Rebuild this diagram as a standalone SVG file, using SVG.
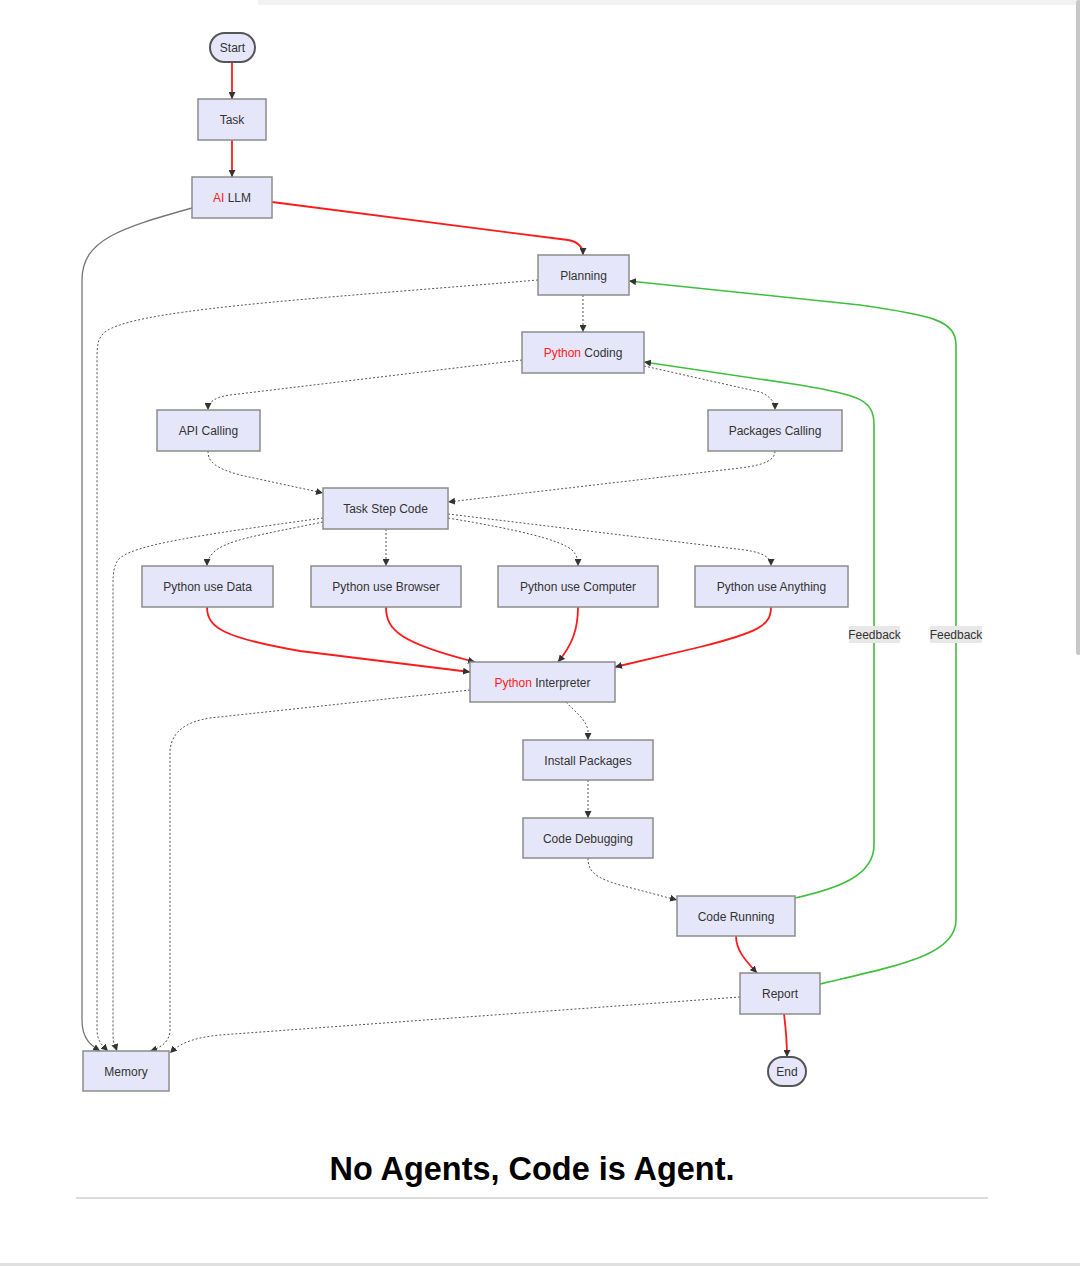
<svg xmlns="http://www.w3.org/2000/svg" width="1080" height="1266" viewBox="0 0 1080 1266">
<style>
.n{fill:#E6E6FA;stroke:#8c8c8c;stroke-width:1.5}
.s{fill:#E6E6FA;stroke:#555;stroke-width:2}
.t{font-family:"Liberation Sans",Arial,sans-serif;font-size:12px;fill:#333;text-anchor:middle;dominant-baseline:central}
.r{fill:#ff2020}
.e{fill:none}
.dot{stroke:#555;stroke-width:1;stroke-dasharray:2 2}
.sol{stroke:#777;stroke-width:1.3}
.red{stroke:#ff1a1a;stroke-width:1.8}
.grn{stroke:#3fbf3f;stroke-width:1.6}
.lb{fill:#e8e8e8}
</style>
<defs>
<marker id="a" viewBox="0 0 10 10" refX="10" refY="5" markerWidth="7" markerHeight="7" markerUnits="userSpaceOnUse" orient="auto">
<path d="M0,0 L10,5 L0,10 z" fill="#333"/>
</marker>
</defs>
<rect x="0" y="0" width="1080" height="1266" fill="#fff"/>
<rect x="258" y="0" width="822" height="5" fill="#f2f2f2"/>
<rect x="1076" y="0" width="5" height="655" rx="2.5" fill="#c8c8c8"/>
<g id="connectors" class="e">
<path class="red" d="M232,62 L232,99" marker-end="url(#a)"/>
<path class="red" d="M232,140 L232,177" marker-end="url(#a)"/>
<path class="red" d="M272,202 L568,240 C579,242 583,247 583,255" marker-end="url(#a)"/>
<path class="sol" d="M192,208 C120,228 82,240 82,280 L82,1020 C82,1040 92,1046 100,1051" marker-end="url(#a)"/>
<path class="dot" d="M538,280 C300,300 120,310 102,335 C98,340 97,345 97,360 L97,1030 C97,1042 104,1047 108,1051" marker-end="url(#a)"/>
<path class="dot" d="M583,295 L583,332" marker-end="url(#a)"/>
<path class="dot" d="M522,360 L230,395 C215,397 208,402 208,410" marker-end="url(#a)"/>
<path class="dot" d="M644,366 L760,392 C770,396 775,402 775,410" marker-end="url(#a)"/>
<path class="dot" d="M208,451 C208,462 215,468 240,475 L323,493" marker-end="url(#a)"/>
<path class="dot" d="M775,451 C775,460 765,465 740,468 L448,502" marker-end="url(#a)"/>
<path class="dot" d="M323,518 C200,535 130,545 118,560 C114,566 113,572 113,585 L113,1035 C113,1044 116,1048 117,1051" marker-end="url(#a)"/>
<path class="dot" d="M323,522 C260,535 225,540 213,553 C209,557 207,561 207,566" marker-end="url(#a)"/>
<path class="dot" d="M386,529 L386,566" marker-end="url(#a)"/>
<path class="dot" d="M448,518 C520,530 560,540 572,550 C577,555 578,560 578,566" marker-end="url(#a)"/>
<path class="dot" d="M448,514 L745,550 C765,553 771,558 771,566" marker-end="url(#a)"/>
<path class="red" d="M207,607 C207,628 225,638 300,651 L470,672" marker-end="url(#a)"/>
<path class="red" d="M386,607 C386,630 400,643 475,662" marker-end="url(#a)"/>
<path class="red" d="M578,607 C578,630 572,645 558,662" marker-end="url(#a)"/>
<path class="red" d="M771,607 C771,625 760,632 700,647 L615,667" marker-end="url(#a)"/>
<path class="dot" d="M470,690 L210,718 C185,722 172,732 170,750 L170,1030 C170,1042 160,1048 150,1051" marker-end="url(#a)"/>
<path class="dot" d="M566,702 C575,712 585,718 588,730 L588,740" marker-end="url(#a)"/>
<path class="dot" d="M588,780 L588,818" marker-end="url(#a)"/>
<path class="dot" d="M588,858 C588,872 596,878 620,885 L677,900" marker-end="url(#a)"/>
<path class="grn" d="M795,898 C840,888 874,875 874,845 L874,425 C874,400 860,395 800,385 L644,362" marker-end="url(#a)"/>
<path class="red" d="M736,936 C736,950 745,960 757,973" marker-end="url(#a)"/>
<path class="grn" d="M820,984 C900,965 956,955 956,920 L956,345 C956,320 930,315 860,305 L629,281" marker-end="url(#a)"/>
<path class="dot" d="M740,997 L220,1035 C190,1038 178,1045 170,1053" marker-end="url(#a)"/>
<path class="red" d="M784,1014 C786,1030 787,1045 787,1057" marker-end="url(#a)"/>
<rect class="lb" x="849" y="626" width="51" height="17"/>
<text class="t" x="874.5" y="634.5">Feedback</text>
<rect class="lb" x="930" y="626" width="52" height="17"/>
<text class="t" x="956" y="634.5">Feedback</text>
</g>
<g id="start"><rect class="s" x="210" y="33" width="45" height="29" rx="14.5"/><text class="t" x="232.5" y="47.5">Start</text></g>
<g id="task"><rect class="n" x="198" y="99" width="68" height="41"/><text class="t" x="232" y="120">Task</text></g>
<g id="llm"><rect class="n" x="192" y="177" width="80" height="41"/><text class="t" x="232" y="197.5"><tspan class="r">AI</tspan> LLM</text></g>
<g id="planning"><rect class="n" x="538" y="255" width="91" height="40"/><text class="t" x="583.5" y="275.5">Planning</text></g>
<g id="coding"><rect class="n" x="522" y="332" width="122" height="41"/><text class="t" x="583" y="353"><tspan class="r">Python</tspan> Coding</text></g>
<g id="api"><rect class="n" x="157" y="410" width="103" height="41"/><text class="t" x="208.5" y="431">API Calling</text></g>
<g id="packages"><rect class="n" x="708" y="410" width="134" height="41"/><text class="t" x="775" y="431">Packages Calling</text></g>
<g id="tsc"><rect class="n" x="323" y="488" width="125" height="41"/><text class="t" x="385.5" y="508.5">Task Step Code</text></g>
<g id="data"><rect class="n" x="142" y="566" width="131" height="41"/><text class="t" x="207.5" y="586.5">Python use Data</text></g>
<g id="browser"><rect class="n" x="311" y="566" width="150" height="41"/><text class="t" x="386" y="586.5">Python use Browser</text></g>
<g id="computer"><rect class="n" x="498" y="566" width="160" height="41"/><text class="t" x="578" y="586.5">Python use Computer</text></g>
<g id="anything"><rect class="n" x="695" y="566" width="153" height="41"/><text class="t" x="771.5" y="586.5">Python use Anything</text></g>
<g id="interpreter"><rect class="n" x="470" y="662" width="145" height="40"/><text class="t" x="542.5" y="682.5"><tspan class="r">Python</tspan> Interpreter</text></g>
<g id="install"><rect class="n" x="523" y="740" width="130" height="40"/><text class="t" x="588" y="760.5">Install Packages</text></g>
<g id="debug"><rect class="n" x="523" y="818" width="130" height="40"/><text class="t" x="588" y="838.5">Code Debugging</text></g>
<g id="running"><rect class="n" x="677" y="896" width="118" height="40"/><text class="t" x="736" y="916.5">Code Running</text></g>
<g id="report"><rect class="n" x="740" y="973" width="80" height="41"/><text class="t" x="780" y="994">Report</text></g>
<g id="end"><rect class="s" x="768" y="1057" width="38" height="29" rx="14.5"/><text class="t" x="787" y="1071.5">End</text></g>
<g id="memory"><rect class="n" x="83" y="1051" width="86" height="40"/><text class="t" x="126" y="1071.5">Memory</text></g>
<text x="532" y="1180" font-family="'Liberation Sans',Arial,sans-serif" font-weight="bold" font-size="34" text-anchor="middle" textLength="405" lengthAdjust="spacingAndGlyphs" fill="#000">No Agents, Code is Agent.</text>
<rect x="76" y="1197" width="912" height="2" fill="#dcdcdc"/>
<rect x="0" y="1263" width="1080" height="3" fill="#e0e0e0"/>
</svg>
